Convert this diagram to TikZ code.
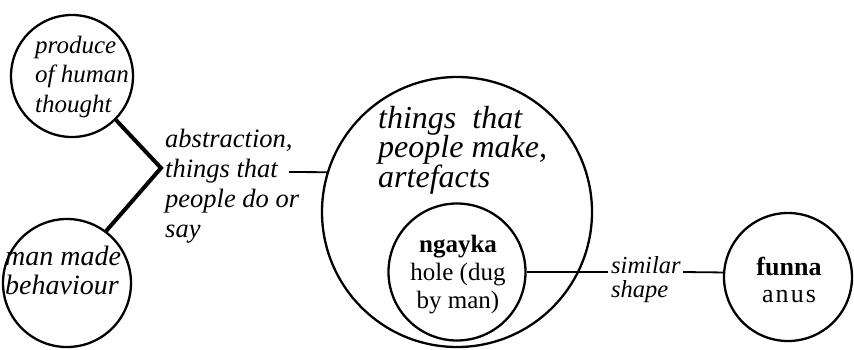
\documentclass[tikz,border=0pt]{standalone}
\usepackage{fontspec}
\setmainfont{Liberation Serif}
\begin{document}
\begin{tikzpicture}[x=1pt,y=-1pt,
  ring/.style={circle, draw, line width=2.3pt, inner sep=0pt, minimum size=#1},
  conn/.style={line width=1.8pt},
  heavy/.style={line width=4pt},
  txt/.style={inner sep=0pt, anchor=base west, align=left}]
\useasboundingbox (0,0) rectangle (854,349);
% circles
\node[ring=122pt] (c1) at (72,76) {};
\node[ring=128pt] (c2) at (67,283) {};
\node[ring=270pt] (cb) at (457,212) {};
\node[ring=137pt] (ci) at (457,272) {};
\node[ring=128pt] (cf) at (788,277) {};
% texts (anchored at the baseline of the last line)
\node[txt, font=\fontsize{25}{29.5}\selectfont\itshape] (t1) at (35,112) {produce\\of human\\thought};
\node[txt, font=\fontsize{28}{29}\selectfont\itshape] (t2) at (5,294) {man made\\behaviour};
\node[txt, font=\fontsize{26.5}{30}\selectfont\itshape] (t3) at (165,237) {abstraction,\\things that\\people do or\\say};
\node[txt, font=\fontsize{32}{29.5}\selectfont\itshape] (t4) at (378,187) {things\ \ that\\people make,\\artefacts};
\node[inner sep=0pt, anchor=base, align=center, font=\fontsize{25}{28}\selectfont] (t5) at (458,308) {\textbf{ngayka}\\hole (dug\\by man)};
\node[txt, font=\fontsize{24.5}{24}\selectfont\itshape] (t6) at (611,297) {similar\\shape};
\node[inner sep=0pt, anchor=base, align=center, font=\fontsize{26}{27}\selectfont] (t7) at (789,302) {\textbf{funna}\\{\addfontfeature{LetterSpace=8}anus}};
% connectors
\coordinate (v) at (161,168);
\draw[heavy] (c1.-45) -- (v) -- (c2.53);
\coordinate (a1) at (289,172);
\draw[conn] (a1) -- (cb.163);
\coordinate (s1) at (608,272);
\draw[conn] (ci.east) -- (s1);
\coordinate (s2) at (683,272);
\draw[conn] (s2) -- (cf.176);
\end{tikzpicture}
\end{document}
